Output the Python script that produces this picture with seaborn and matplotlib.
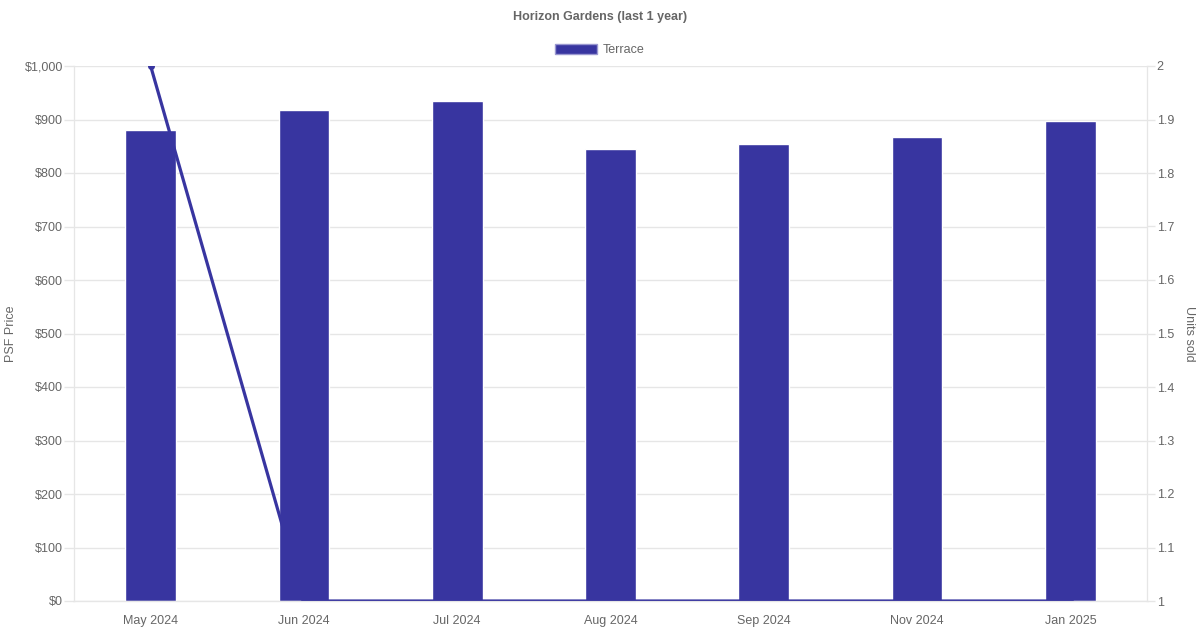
import matplotlib.pyplot as plt
import matplotlib.ticker as mticker
from matplotlib.patches import Patch
import pandas as pd
import seaborn as sns

months = ["May 2024", "Jun 2024", "Jul 2024", "Aug 2024", "Sep 2024", "Nov 2024", "Jan 2025"]
psf_price = [881, 918, 934, 844, 855, 868, 897]
units_sold = [2, 1, 1, 1, 1, 1, 1]

bar_color = "#3835a0"
text_color = "#666666"
grid_color = "#e6e6e6"

df = pd.DataFrame({"Month": months, "PSF": psf_price, "Units": units_sold})

sns.set_style("white")
plt.rcParams["font.family"] = ["Liberation Sans", "DejaVu Sans"]

fig = plt.figure(figsize=(12, 6.3), dpi=100)
ax = fig.add_axes([74 / 1200, 29 / 630, 1073 / 1200, 535 / 630])

sns.barplot(data=df, x="Month", y="PSF", color=bar_color, saturation=1, width=0.33, ax=ax)
ax.set_ylim(0, 1000)
ax.yaxis.set_major_locator(mticker.MultipleLocator(100))
ax.yaxis.set_major_formatter(mticker.FuncFormatter(lambda v, p: f"${v:,.0f}"))
ax.grid(axis="y", color=grid_color, linewidth=1)
ax.set_axisbelow(True)
ax.set_xlabel("")
ax.set_ylabel("PSF Price", color=text_color, fontsize=9, va="center")
ax.yaxis.set_label_coords(-0.0587, 0.5)

ax2 = ax.twinx()
sns.lineplot(data=df, x="Month", y="Units", color=bar_color, linewidth=2.3,
             marker="o", markersize=5, markeredgewidth=0, ax=ax2)
ax2.set_ylim(1, 2)
ax2.yaxis.set_major_locator(mticker.MultipleLocator(0.1))
ax2.yaxis.set_major_formatter(mticker.FuncFormatter(lambda v, p: f"{v:g}"))
ax2.set_ylabel("Units sold", color=text_color, fontsize=9, rotation=270, va="center")
ax2.yaxis.set_label_coords(1.039, 0.5)
ax2.set_xlim(-0.5, len(months) - 0.5)
ax.set_xlim(-0.5, len(months) - 0.5)

for a in (ax, ax2):
    a.tick_params(axis="both", colors=grid_color, labelcolor=text_color, labelsize=9,
                  length=7, width=1, pad=1)
    for s in a.spines.values():
        s.set_color(grid_color)
    a.spines["top"].set_visible(False)
ax2.tick_params(axis="y", length=6, pad=1)
ax.spines["bottom"].set_color("#cccccc")
ax.tick_params(axis="x", length=0, pad=10)

fig.text(0.5, 1 - 17 / 630, "Horizon Gardens (last 1 year)", ha="center", va="center",
         fontsize=9, fontweight="bold", color=text_color)
fig.legend(handles=[Patch(facecolor=bar_color, edgecolor="#9a98d0", label="Terrace")],
           loc="center", bbox_to_anchor=(0.5, 1 - 50 / 630), frameon=False,
           fontsize=9, labelcolor=text_color, handlelength=3.3, handleheight=0.9,
           handletextpad=0.5)

fig.savefig("out.png", dpi=100)
